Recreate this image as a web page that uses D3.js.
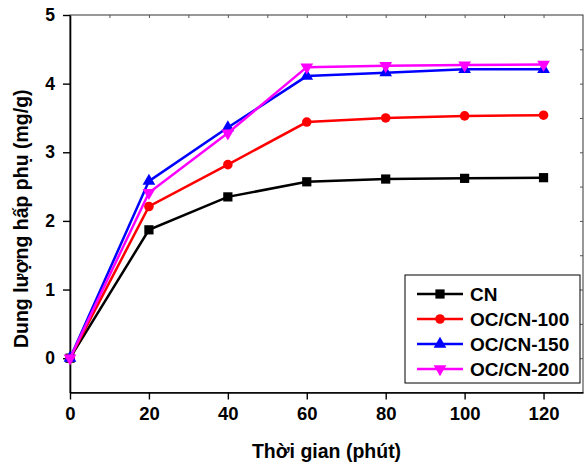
<!DOCTYPE html>
<meta charset='utf-8'>
<style>
	body { margin: 0; background: #fff; }
	svg text { font-family: 'Liberation Sans', Arial, sans-serif; font-weight: bold; fill: #000; }
</style>
<body>
<div id='container'></div>
<script src='https://d3js.org/d3.v7.min.js'></script>
<script>
	// data
	const times = [ 0, 20, 40, 60, 80, 100, 120 ];
	const seriesNames = [ 'CN', 'OC/CN-100', 'OC/CN-150', 'OC/CN-200' ];
	const cnValues = [ 0, 1.87, 2.35, 2.57, 2.61, 2.62, 2.63 ];
	const oc100Values = [ 0, 2.21, 2.82, 3.44, 3.50, 3.53, 3.54 ];
	const oc150Values = [ 0, 2.58, 3.36, 4.11, 4.16, 4.21, 4.21 ];
	const oc200Values = [ 0, 2.41, 3.28, 4.24, 4.26, 4.27, 4.28 ];
	const xTicks = [ 0, 20, 40, 60, 80, 100, 120 ];
	const yTicks = [ 0, 1, 2, 3, 4, 5 ];

	const W = 586, H = 466;
	const plot = { left: 70, right: 583, top: 15, bottom: 392.5 };

	const colors = [ '#000000', '#ff0000', '#0000ff', '#ff00ff' ];
	const symbols = [ d3.symbolSquare, d3.symbolCircle, d3.symbolTriangle, d3.symbolTriangle ];
	const symbolSizes = [ 85, 72, 70, 70 ];
	const symbolRot = [ 0, 0, 0, 180 ];

	const allValues = [ cnValues, oc100Values, oc150Values, oc200Values ];
	const lineData = seriesNames.map( ( name, i ) => ( {
		name: name,
		color: colors[i],
		symbol: symbols[i],
		size: symbolSizes[i],
		rot: symbolRot[i],
		data: times.map( ( t, j ) => ( { time: t, value: allValues[i][j] } ) ),
	} ) );

	const xScale = d3.scaleLinear()
		.domain( [ 0, 130 ] )
		.range( [ plot.left, plot.right ] );
	const yScale = d3.scaleLinear()
		.domain( [ -0.5, 5 ] )
		.range( [ plot.bottom, plot.top ] );

	const svg = d3.select( '#container' )
		.append( 'svg' )
		.attr( 'width', W )
		.attr( 'height', H );

	// frame (top / right)
	svg.append( 'rect' )
		.attr( 'x', plot.left )
		.attr( 'y', plot.top )
		.attr( 'width', plot.right - plot.left )
		.attr( 'height', plot.bottom - plot.top )
		.style( 'fill', 'none' )
		.style( 'stroke', '#333' )
		.style( 'stroke-width', 1 );

	// top + right inward minor ticks
	svg.append( 'g' )
		.attr( 'transform', `translate( 0, ${plot.top} )` )
		.call( d3.axisTop( xScale ).tickValues( d3.range( 10, 130, 10 ) ).tickSize( -3 ).tickFormat( '' ) )
		.call( g => g.select( '.domain' ).remove() )
		.selectAll( 'line' ).style( 'stroke', '#555' );
	svg.append( 'g' )
		.attr( 'transform', `translate( ${plot.right}, 0 )` )
		.call( d3.axisRight( yScale ).tickValues( d3.range( 0, 5, 0.5 ) ).tickSize( -3 ).tickFormat( '' ) )
		.call( g => g.select( '.domain' ).remove() )
		.selectAll( 'line' ).style( 'stroke', '#555' );

	// bottom axis
	const xAxisEl = svg.append( 'g' )
		.attr( 'transform', `translate( 0, ${plot.bottom} )` );
	xAxisEl.call( d3.axisBottom( xScale ).tickValues( d3.range( 10, 130, 20 ) ).tickSize( 4 ).tickFormat( '' ) );
	xAxisEl.call( d3.axisBottom( xScale ).tickValues( xTicks ).tickSize( 7 ).tickPadding( 7 ).tickSizeOuter( 0 ).tickFormat( d3.format( 'd' ) ) );
	xAxisEl.selectAll( '.domain' ).style( 'stroke', '#000' ).style( 'stroke-width', 1.6 );
	xAxisEl.selectAll( 'line' ).style( 'stroke', '#000' ).style( 'stroke-width', 1.4 );
	xAxisEl.selectAll( 'text' ).style( 'font-size', '18.5px' );

	// left axis
	const yAxisEl = svg.append( 'g' )
		.attr( 'transform', `translate( ${plot.left}, 0 )` );
	yAxisEl.call( d3.axisLeft( yScale ).tickValues( d3.range( -0.5, 5, 1 ) ).tickSize( 4 ).tickFormat( '' ) );
	yAxisEl.call( d3.axisLeft( yScale ).tickValues( yTicks ).tickSize( 7 ).tickPadding( 8 ).tickSizeOuter( 0 ).tickFormat( d3.format( 'd' ) ) );
	yAxisEl.selectAll( '.domain' ).style( 'stroke', '#000' ).style( 'stroke-width', 1.6 );
	yAxisEl.selectAll( 'line' ).style( 'stroke', '#000' ).style( 'stroke-width', 1.4 );
	yAxisEl.selectAll( 'text' ).style( 'font-size', '17.5px' );

	// axis titles
	svg.append( 'text' )
		.attr( 'x', ( plot.left + plot.right ) / 2 )
		.attr( 'y', 458 )
		.attr( 'text-anchor', 'middle' )
		.style( 'font-size', '19.5px' )
		.text( 'Thời gian (phút)' );
	svg.append( 'text' )
		.attr( 'transform', `translate( 28, ${( plot.top + plot.bottom ) / 2 + 15} ) rotate( -90 )` )
		.attr( 'text-anchor', 'middle' )
		.style( 'font-size', '19.5px' )
		.text( 'Dung lượng hấp phụ (mg/g)' );

	// lines + markers
	const statusLine = d3.line()
		.x( d => xScale( d.time ) )
		.y( d => yScale( d.value ) );

	const series = svg.append( 'g' )
		.selectAll( '.series' )
		.data( lineData )
		.enter().append( 'g' )
			.attr( 'class', 'series' );

	series.append( 'path' )
		.attr( 'd', d => statusLine( d.data ) )
		.style( 'fill', 'none' )
		.style( 'stroke', d => d.color )
		.style( 'stroke-width', 2.5 );

	series.selectAll( '.marker' )
		.data( d => d.data.map( p => ( { p: p, s: d } ) ) )
		.enter().append( 'path' )
			.attr( 'class', 'marker' )
			.attr( 'd', d => d3.symbol().type( d.s.symbol ).size( d.s.size )() )
			.attr( 'transform', d => `translate( ${xScale( d.p.time )}, ${yScale( d.p.value )} ) rotate( ${d.s.rot} )` )
			.style( 'fill', d => d.s.color );

	// legend
	const legendBox = { x: 405, y: 275, w: 175, h: 108 };
	const legend = svg.append( 'g' );
	legend.append( 'rect' )
		.attr( 'x', legendBox.x )
		.attr( 'y', legendBox.y )
		.attr( 'width', legendBox.w )
		.attr( 'height', legendBox.h )
		.style( 'fill', '#fff' )
		.style( 'stroke', '#000' )
		.style( 'stroke-width', 1 );

	const item = legend.selectAll( '.legend' )
		.data( lineData )
		.enter().append( 'g' )
			.attr( 'class', 'legend' )
			.attr( 'transform', ( d, i ) => `translate( ${legendBox.x}, ${294 + i * 25} )` );
	item.append( 'line' )
		.attr( 'x1', 12 ).attr( 'x2', 58 )
		.style( 'stroke', d => d.color )
		.style( 'stroke-width', 2.5 );
	item.append( 'path' )
		.attr( 'd', d => d3.symbol().type( d.symbol ).size( d.size )() )
		.attr( 'transform', d => `translate( 35, 0 ) rotate( ${d.rot} )` )
		.style( 'fill', d => d.color );
	item.append( 'text' )
		.attr( 'x', 65 )
		.attr( 'dy', '0.36em' )
		.style( 'font-size', '19px' )
		.text( d => d.name );
</script>
</body>
